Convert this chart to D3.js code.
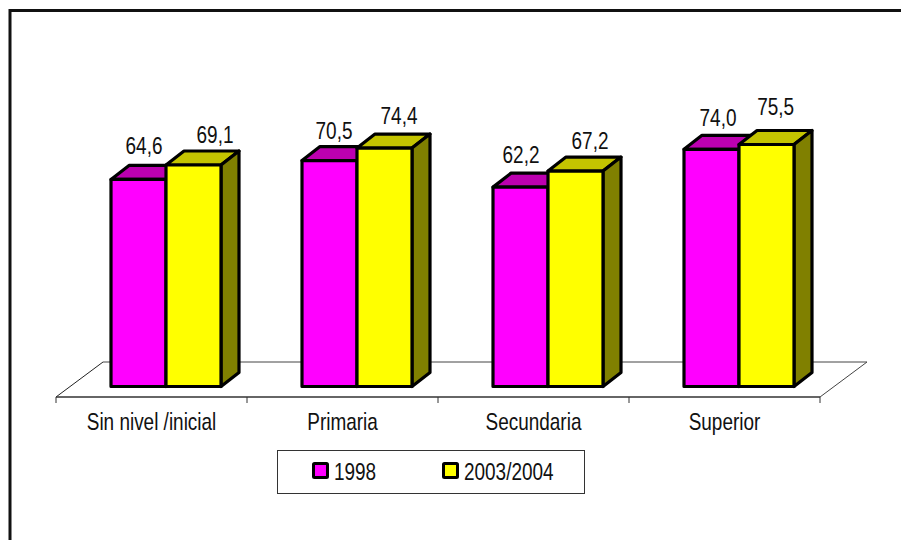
<!DOCTYPE html>
<meta charset="utf-8">
<script src="https://d3js.org/d3.v7.min.js"></script>
<style>
  html, body { margin: 0; padding: 0; background: #fff; }
  svg { display: block; }
  text { font-family: "Liberation Sans", Arial, sans-serif; font-size: 24px; fill: #111; }
</style>
<div id="my_dataviz"></div>
<script>
var categories = ["Sin nivel /inicial", "Primaria", "Secundaria", "Superior"];
var series = ["1998", "2003/2004"];
var values1998 = [64.6, 70.5, 62.2, 74.0];
var values2003 = [69.1, 74.4, 67.2, 75.5];
var valueLabels1998 = ["64,6", "70,5", "62,2", "74,0"];
var valueLabels2003 = ["69,1", "74,4", "67,2", "75,5"];
var frontColors = ["#ff00ff", "#ffff00"];
var topColors = ["#bc00b0", "#c4c400"];
var sideColor = "#808000";

var width = 901, height = 540;
var depthX = 18, depthY = 14;
var squeeze = 0.79; // the text in the picture is stretched tall

// hand placed labels in the original, offsets from the bar centre / top
var nudgeX = [[5.5, 4.5, 0.5, 6.5], [21.5, 14.5, 14.5, 9.2]];
var nudgeY = [[-25, -21.5, -24, -23.3], [-22.3, -24, -22, -29.5]];

var svg = d3.select("#my_dataviz")
  .append("svg")
  .attr("width", width)
  .attr("height", height);

// outer frame, cut off by the right and bottom of the picture
svg.append("path")
  .attr("d", "M10,540V10.5H901")
  .attr("fill", "none")
  .attr("stroke", "#111")
  .attr("stroke-width", 3);

var x = d3.scaleBand().domain(categories).range([56, 820]);
var xInner = d3.scaleBand().domain(series).range([55, 165]);
var y = d3.scaleLinear().domain([0, 75.5]).range([386.5, 144.5]);

function placeText(sel, fx, fy) {
  sel.attr("transform", function(d, i) {
    return "translate(" + fx(d, i) + "," + fy(d, i) + ") scale(" + squeeze + ",1)";
  });
}

// floor of the 3d plot
svg.append("path")
  .attr("d", "M56,397L103,362")
  .attr("fill", "none")
  .attr("stroke", "#222");
svg.append("path")
  .attr("d", "M103,362H867L820,397")
  .attr("fill", "none")
  .attr("stroke", "#444");

// x axis with the ticks between categories
var axis = svg.append("g")
  .attr("transform", "translate(0,397)");
axis.append("line")
  .attr("x1", 56).attr("x2", 820)
  .attr("stroke", "#333").attr("stroke-width", 1.5);
axis.selectAll("line.tick")
  .data(categories.concat(["end"]))
  .enter().append("line")
  .attr("class", "tick")
  .attr("x1", function(d, i) { return i < categories.length ? x(d) : x.range()[1]; })
  .attr("x2", function(d, i) { return i < categories.length ? x(d) : x.range()[1]; })
  .attr("y1", 0).attr("y2", 6)
  .attr("stroke", "#333");
axis.selectAll("text")
  .data(categories)
  .enter().append("text")
  .attr("text-anchor", "middle")
  .call(placeText, function(d) { return x(d) + x.bandwidth() / 2; }, function() { return 33; })
  .text(function(d) { return d; });

// bars, later series drawn on top
var rows = [];
categories.forEach(function(c, i) {
  rows.push({cat: c, i: i, s: 0, v: values1998[i], label: valueLabels1998[i]});
  rows.push({cat: c, i: i, s: 1, v: values2003[i], label: valueLabels2003[i]});
});

var bars = svg.selectAll("g.bar")
  .data(rows)
  .enter().append("g")
  .attr("class", "bar")
  .attr("stroke", "#000")
  .attr("stroke-width", 3.2)
  .attr("stroke-linejoin", "round");

// top face
bars.append("path")
  .attr("fill", function(d) { return topColors[d.s]; })
  .attr("d", function(d) {
    var x0 = x(d.cat) + xInner(series[d.s]), x1 = x0 + xInner.bandwidth(), t = y(d.v);
    return "M" + x0 + "," + t + "L" + (x0 + depthX) + "," + (t - depthY) +
      "H" + (x1 + depthX) + "L" + x1 + "," + t + "Z";
  });

// side face
bars.append("path")
  .attr("fill", sideColor)
  .attr("d", function(d) {
    var x1 = x(d.cat) + xInner(series[d.s]) + xInner.bandwidth(), t = y(d.v), b = y(0);
    return "M" + x1 + "," + t + "L" + (x1 + depthX) + "," + (t - depthY) +
      "V" + (b - depthY) + "L" + x1 + "," + b + "Z";
  });

// front face
bars.append("rect")
  .attr("x", function(d) { return x(d.cat) + xInner(series[d.s]); })
  .attr("y", function(d) { return y(d.v); })
  .attr("width", xInner.bandwidth())
  .attr("height", function(d) { return y(0) - y(d.v); })
  .attr("fill", function(d) { return frontColors[d.s]; });

// value labels
svg.selectAll("text.value")
  .data(rows)
  .enter().append("text")
  .attr("class", "value")
  .attr("text-anchor", "middle")
  .call(placeText,
    function(d) { return x(d.cat) + xInner(series[d.s]) + xInner.bandwidth() / 2 + nudgeX[d.s][d.i]; },
    function(d) { return y(d.v) + nudgeY[d.s][d.i]; })
  .text(function(d) { return d.label; });

// legend
svg.append("rect")
  .attr("x", 277.5).attr("y", 450.5)
  .attr("width", 307).attr("height", 43)
  .attr("fill", "#fff").attr("stroke", "#333");

var legendX = [313.5, 443.5];
var legend = svg.selectAll("g.legend")
  .data(series)
  .enter().append("g")
  .attr("class", "legend")
  .attr("transform", function(d, i) { return "translate(" + legendX[i] + ",463.5)"; });
legend.append("rect")
  .attr("width", 14).attr("height", 14)
  .attr("rx", 1)
  .attr("fill", function(d, i) { return frontColors[i]; })
  .attr("stroke", "#000").attr("stroke-width", 3);
legend.append("text")
  .call(placeText, function() { return 20.5; }, function() { return 16.5; })
  .text(function(d) { return d; });
</script>
